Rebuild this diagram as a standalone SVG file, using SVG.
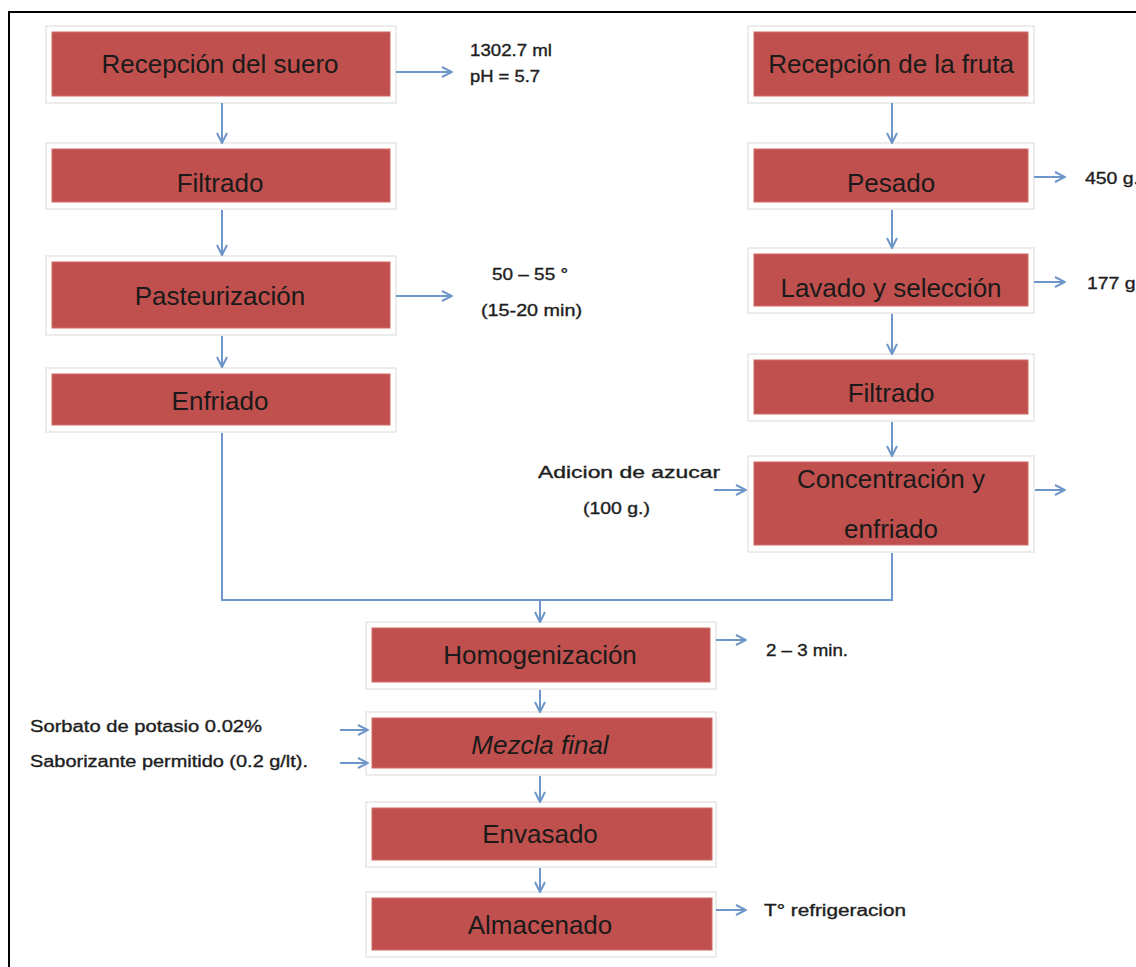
<svg xmlns="http://www.w3.org/2000/svg" width="1136" height="967" viewBox="0 0 1136 967">
  <style>
    .frame { fill: #ffffff; stroke: #e6e6e6; stroke-width: 1.5; }
    .box { fill: #c0504d; stroke: #d06a67; stroke-width: 1; }
    .lbl { font-family: "Liberation Sans", Arial, sans-serif; font-size: 26px; fill: #1a1a1a; text-anchor: middle; }
    .note { font-family: "Liberation Sans", Arial, sans-serif; font-size: 16px; fill: #1e1e1e; stroke: #1e1e1e; stroke-width: 0.35; }
    .line { fill: none; stroke: #6f96c9; stroke-width: 2; }
    .arr { fill: none; stroke: #6f96c9; stroke-width: 2; marker-end: url(#head); }
  </style>
  <defs>
    <marker id="head" viewBox="0 0 12 12" refX="11" refY="6" markerWidth="12" markerHeight="12" markerUnits="userSpaceOnUse" orient="auto">
      <polyline points="1,1 11,6 1,11" fill="none" stroke="#6f96c9" stroke-width="2"/>
    </marker>
  </defs>

  <rect width="1136" height="967" fill="#ffffff"/>
  <!-- page border -->
  <path d="M9,967 V12 H1136" fill="none" stroke="#000000" stroke-width="2"/>

  <!-- whey line -->
  <g id="recepcion-suero">
    <rect class="frame" x="46" y="26" width="350" height="77"/>
    <rect class="box" x="52" y="32" width="338" height="64"/>
    <text class="lbl" x="220" y="73">Recepción del suero</text>
  </g>
  <g id="filtrado-suero">
    <rect class="frame" x="46" y="143" width="350" height="66"/>
    <rect class="box" x="52" y="149" width="338" height="53"/>
    <text class="lbl" x="220" y="192">Filtrado</text>
  </g>
  <g id="pasteurizacion">
    <rect class="frame" x="46" y="256" width="350" height="79"/>
    <rect class="box" x="52" y="262" width="338" height="66"/>
    <text class="lbl" x="220" y="305">Pasteurización</text>
  </g>
  <g id="enfriado">
    <rect class="frame" x="46" y="368" width="350" height="64"/>
    <rect class="box" x="52" y="374" width="338" height="51"/>
    <text class="lbl" x="220" y="410">Enfriado</text>
  </g>

  <!-- fruit line -->
  <g id="recepcion-fruta">
    <rect class="frame" x="748" y="26" width="286" height="77"/>
    <rect class="box" x="754" y="32" width="274" height="64"/>
    <text class="lbl" x="891" y="73">Recepción de la fruta</text>
  </g>
  <g id="pesado">
    <rect class="frame" x="748" y="143" width="286" height="66"/>
    <rect class="box" x="754" y="149" width="274" height="53"/>
    <text class="lbl" x="891" y="192">Pesado</text>
  </g>
  <g id="lavado">
    <rect class="frame" x="748" y="248" width="286" height="65"/>
    <rect class="box" x="754" y="254" width="274" height="52"/>
    <text class="lbl" x="891" y="297">Lavado y selección</text>
  </g>
  <g id="filtrado-fruta">
    <rect class="frame" x="748" y="354" width="286" height="67"/>
    <rect class="box" x="754" y="360" width="274" height="54"/>
    <text class="lbl" x="891" y="402">Filtrado</text>
  </g>
  <g id="concentracion">
    <rect class="frame" x="748" y="456" width="286" height="96"/>
    <rect class="box" x="754" y="462" width="274" height="83"/>
    <text class="lbl" x="891" y="488">Concentración y</text>
    <text class="lbl" x="891" y="538">enfriado</text>
  </g>

  <!-- common line -->
  <g id="homogenizacion">
    <rect class="frame" x="366" y="622" width="350" height="67"/>
    <rect class="box" x="372" y="628" width="338" height="54"/>
    <text class="lbl" x="540" y="664">Homogenización</text>
  </g>
  <g id="mezcla-final">
    <rect class="frame" x="366" y="712" width="350" height="63"/>
    <rect class="box" x="372" y="718" width="340" height="50"/>
    <text class="lbl" x="540" y="754" font-style="italic">Mezcla final</text>
  </g>
  <g id="envasado">
    <rect class="frame" x="366" y="802" width="350" height="65"/>
    <rect class="box" x="372" y="808" width="340" height="52"/>
    <text class="lbl" x="540" y="843">Envasado</text>
  </g>
  <g id="almacenado">
    <rect class="frame" x="366" y="892" width="350" height="65"/>
    <rect class="box" x="372" y="898" width="340" height="52"/>
    <text class="lbl" x="540" y="934">Almacenado</text>
  </g>

  <!-- side notes -->
  <g id="notas">
    <text class="note" x="470" y="56" textLength="82" lengthAdjust="spacingAndGlyphs">1302.7 ml</text>
    <text class="note" x="470" y="82" textLength="70" lengthAdjust="spacingAndGlyphs">pH = 5.7</text>
    <text class="note" x="492" y="280" textLength="76" lengthAdjust="spacingAndGlyphs">50 – 55 °</text>
    <text class="note" x="481" y="316" textLength="101" lengthAdjust="spacingAndGlyphs">(15-20 min)</text>
    <text class="note" x="1085" y="184" textLength="54" lengthAdjust="spacingAndGlyphs">450 g.</text>
    <text class="note" x="1087" y="289" textLength="54" lengthAdjust="spacingAndGlyphs">177 g.</text>
    <text class="note" x="538" y="478" textLength="182" lengthAdjust="spacingAndGlyphs">Adicion de azucar</text>
    <text class="note" x="583" y="514" textLength="67" lengthAdjust="spacingAndGlyphs">(100 g.)</text>
    <text class="note" x="766" y="656" textLength="82" lengthAdjust="spacingAndGlyphs">2 – 3 min.</text>
    <text class="note" x="30" y="732" textLength="232" lengthAdjust="spacingAndGlyphs">Sorbato de potasio 0.02%</text>
    <text class="note" x="30" y="767" textLength="278" lengthAdjust="spacingAndGlyphs">Saborizante permitido (0.2 g/lt).</text>
    <text class="note" x="764" y="916" textLength="142" lengthAdjust="spacingAndGlyphs">T° refrigeracion</text>
  </g>

  <!-- connectors -->
  <g id="conectores">
    <line class="arr" x1="222" y1="103" x2="222" y2="143"/>
    <line class="arr" x1="222" y1="210" x2="222" y2="255"/>
    <line class="arr" x1="222" y1="336" x2="222" y2="367"/>

    <line class="arr" x1="892" y1="103" x2="892" y2="143"/>
    <line class="arr" x1="892" y1="210" x2="892" y2="248"/>
    <line class="arr" x1="892" y1="314" x2="892" y2="354"/>
    <line class="arr" x1="892" y1="422" x2="892" y2="456"/>

    <polyline class="line" points="222,433 222,600 892,600 892,553"/>
    <line class="arr" x1="540" y1="600" x2="540" y2="622"/>
    <line class="arr" x1="540" y1="690" x2="540" y2="712"/>
    <line class="arr" x1="540" y1="776" x2="540" y2="802"/>
    <line class="arr" x1="540" y1="868" x2="540" y2="892"/>

    <line class="arr" x1="396" y1="72" x2="452" y2="72"/>
    <line class="arr" x1="396" y1="296" x2="452" y2="296"/>
    <line class="arr" x1="1034" y1="177" x2="1065" y2="177"/>
    <line class="arr" x1="1034" y1="282" x2="1065" y2="282"/>
    <line class="arr" x1="1035" y1="490" x2="1065" y2="490"/>
    <line class="arr" x1="714" y1="490" x2="746" y2="490"/>
    <line class="arr" x1="716" y1="640" x2="746" y2="640"/>
    <line class="arr" x1="716" y1="910" x2="746" y2="910"/>
    <line class="arr" x1="340" y1="730" x2="368" y2="730"/>
    <line class="arr" x1="340" y1="763" x2="368" y2="763"/>
  </g>
</svg>
